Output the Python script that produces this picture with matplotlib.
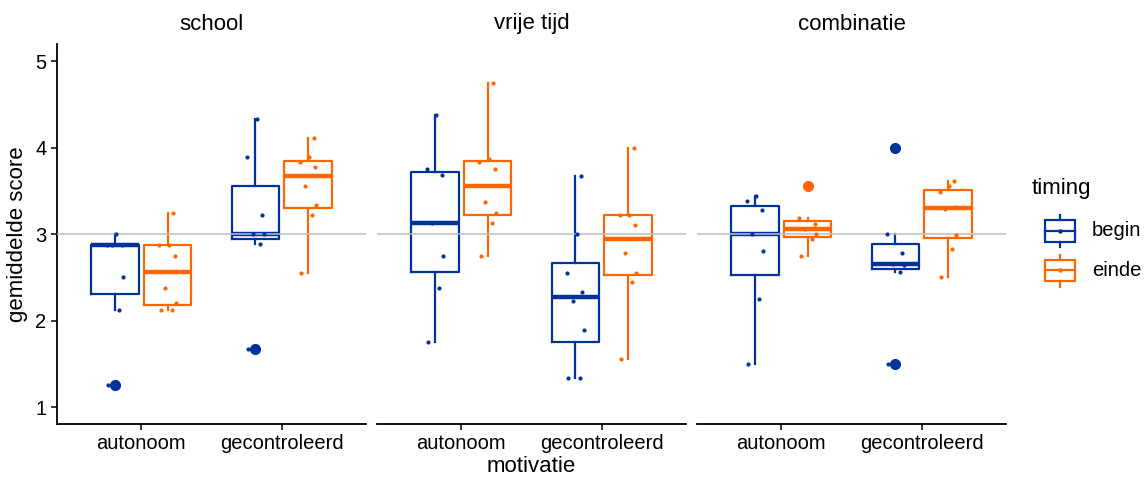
import matplotlib
matplotlib.use("Agg")
import matplotlib.pyplot as plt
from matplotlib.patches import Rectangle
import numpy as np

plt.rcParams['font.family'] = ['Liberation Sans', 'DejaVu Sans']

# ---- data --------------------------------------------------------------
facets = ['school', 'vrije tijd', 'combinatie']
motivatie = ['autonoom', 'gecontroleerd']
timing = ['begin', 'einde']

school_auto_begin = [1.25, 2.125, 2.5, 2.875, 2.875, 2.875, 3.0]
school_auto_einde = [2.125, 2.125, 2.2, 2.375, 2.75, 2.875, 2.875, 3.25]
school_gec_begin = [1.667, 2.889, 3.0, 3.0, 3.222, 3.889, 4.333]
school_gec_einde = [2.556, 3.222, 3.333, 3.556, 3.778, 3.833, 3.889, 4.111]

vrij_auto_begin = [1.75, 2.375, 2.75, 3.125, 3.6875, 3.75, 4.375]
vrij_auto_einde = [2.75, 3.125, 3.25, 3.375, 3.75, 3.833, 3.875, 4.75]
vrij_gec_begin = [1.333, 1.333, 1.889, 2.222, 2.333, 2.556, 3.0, 3.667]
vrij_gec_einde = [1.556, 2.444, 2.556, 2.778, 3.111, 3.222, 3.222, 4.0]

comb_auto_begin = [1.5, 2.25, 2.81, 3.0, 3.28, 3.38, 3.44]
comb_auto_einde = [2.75, 2.94, 3.0, 3.06, 3.12, 3.19, 3.56]
comb_gec_begin = [1.5, 2.56, 2.64, 2.65, 2.78, 3.0, 4.0]
comb_gec_einde = [2.5, 2.83, 2.99, 3.29, 3.31, 3.49, 3.56, 3.61]

groups = {
    'school': [school_auto_begin, school_auto_einde, school_gec_begin, school_gec_einde],
    'vrije tijd': [vrij_auto_begin, vrij_auto_einde, vrij_gec_begin, vrij_gec_einde],
    'combinatie': [comb_auto_begin, comb_auto_einde, comb_gec_begin, comb_gec_einde],
}

# ---- style -------------------------------------------------------------
BLUE = '#003399'
ORANGE = '#FF6600'
COLORS = [BLUE, ORANGE, BLUE, ORANGE]
JITTER = [-0.05, 0.03, 0.06, -0.02, 0.05, -0.06, 0.01, 0.04]

W, H = 1148, 479
fig = plt.figure(figsize=(W / 100, H / 100), dpi=100)


def px_axes(x0, y0, x1, y1):
    return fig.add_axes([x0 / W, 1 - y1 / H, (x1 - x0) / W, (y1 - y0) / H])


def draw_panel(ax, data, first):
    pos = [1 - 0.1875, 1 + 0.1875, 2 - 0.1875, 2 + 0.1875]
    bp = ax.boxplot(data, positions=pos, widths=0.3375, whis=1.5,
                    manage_ticks=False, patch_artist=False)
    for i, c in enumerate(COLORS):
        bp['boxes'][i].set(color=c, linewidth=1.6)
        bp['medians'][i].set(color=c, linewidth=3.2)
        for w in bp['whiskers'][2 * i:2 * i + 2]:
            w.set(color=c, linewidth=1.6)
        for cap in bp['caps'][2 * i:2 * i + 2]:
            cap.set_visible(False)
        bp['fliers'][i].set(marker='o', markerfacecolor=c, markeredgecolor=c,
                            markersize=7)
    ax.axhline(3, color='#BEBEBE', linewidth=1.1, zorder=3)
    for i, vals in enumerate(data):
        xs = [pos[i] + JITTER[j % len(JITTER)] for j in range(len(vals))]
        ax.scatter(xs, vals, s=9, color=COLORS[i], zorder=4, linewidths=0)

    ax.set_xlim(0.4, 2.6)
    ax.set_ylim(0.8, 5.2)
    ax.set_xticks([1, 2])
    ax.set_xticklabels(motivatie, fontsize=14.5)
    for s in ['top', 'right']:
        ax.spines[s].set_visible(False)
    ax.spines['bottom'].set_linewidth(1.3)
    ax.tick_params(axis='x', length=4, width=1.1, pad=3, colors='black')
    if first:
        ax.set_yticks([1, 2, 3, 4, 5])
        ax.tick_params(axis='y', length=4, width=1.1, pad=3.5, labelsize=14.5)
        ax.spines['left'].set_linewidth(1.3)
    else:
        ax.set_yticks([])
        ax.spines['left'].set_visible(False)


lefts = [57, 377, 697]
for k, f in enumerate(facets):
    ax = px_axes(lefts[k], 44, lefts[k] + 309, 424.3)
    draw_panel(ax, groups[f], k == 0)
    fig.text((lefts[k] + 154.5) / W, 1 - 24 / H, f, fontsize=16,
             ha='center', va='center')

fig.text(531.5 / W, 1 - 467 / H, 'motivatie', fontsize=16, ha='center', va='center')
fig.text(18 / W, 1 - 234 / H, 'gemiddelde score', fontsize=16, rotation=90,
         ha='center', va='center')

# ---- legend ------------------------------------------------------------
lg = px_axes(1025, 170, 1148, 300)
lg.set_xlim(1025, 1148)
lg.set_ylim(300, 170)
lg.axis('off')
lg.text(1032, 189, 'timing', fontsize=16, ha='left', va='center')
for (top, bot, wt, wb, lab), c in zip([(220, 242, 215, 247, 'begin'),
                                       (260, 281, 255, 287, 'einde')],
                                      [BLUE, ORANGE]):
    mid = (top + bot) / 2
    lg.add_patch(Rectangle((1045, top), 30, bot - top, fill=False,
                           edgecolor=c, linewidth=1.6))
    lg.plot([1060, 1060], [wt, top], color=c, linewidth=1.6)
    lg.plot([1060, 1060], [bot, wb], color=c, linewidth=1.6)
    lg.plot([1045, 1075], [mid, mid], color=c, linewidth=1.6)
    lg.plot([1060], [mid], 'o', color=c, markersize=2.2)
    lg.text(1092, mid, lab, fontsize=14.5, ha='left', va='center')

fig.savefig('out.png', dpi=100)
